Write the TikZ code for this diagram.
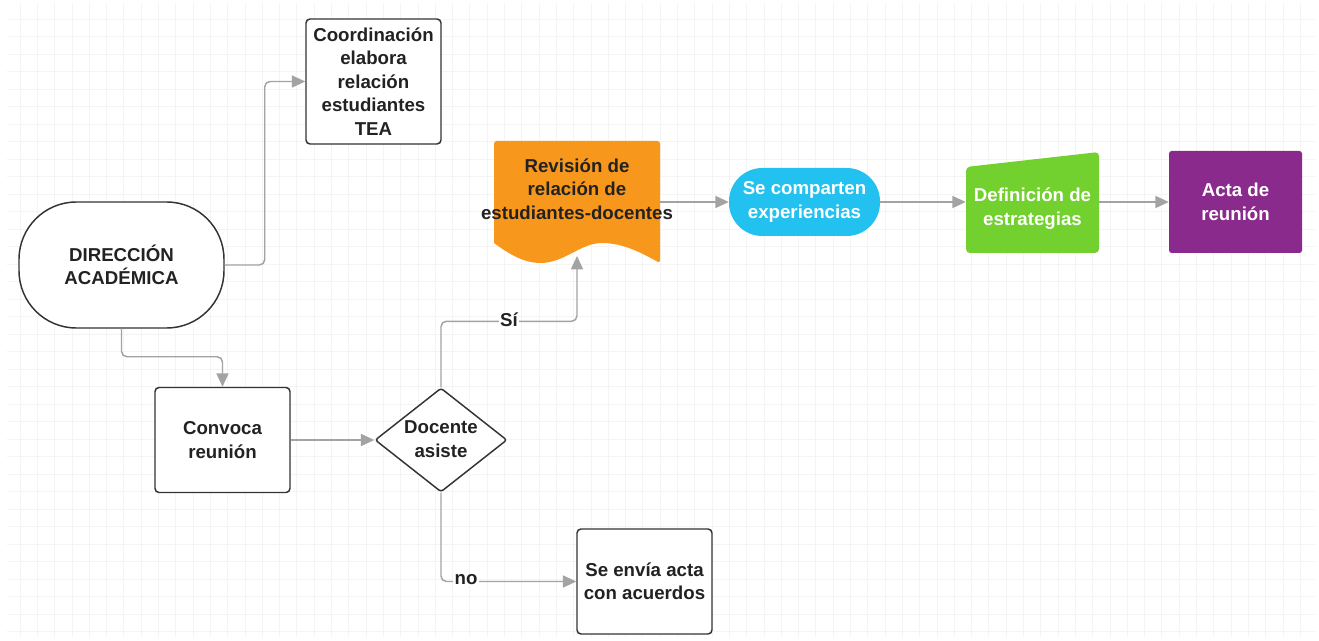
\documentclass[tikz,border=0pt]{standalone}
\usepackage{fontspec}
\setmainfont{Liberation Sans}
\usetikzlibrary{shapes.geometric, arrows.meta}
\definecolor{edge}{HTML}{A3A3A3}
\definecolor{ink}{HTML}{222222}
\definecolor{frame}{HTML}{333333}
\definecolor{gridc}{HTML}{F4F4F4}
\definecolor{orangeC}{HTML}{F7971B}
\definecolor{cyanC}{HTML}{22C1EF}
\definecolor{greenC}{HTML}{72D12E}
\definecolor{purpleC}{HTML}{8A2A8C}
\def\p{0.75}
\begin{document}
\begin{tikzpicture}[x=0.75pt, y=-0.75pt,
  txt/.style={font=\bfseries\fontsize{14}{17.6}\selectfont, align=center, text=ink},
  box/.style={txt, draw=frame, line width=1.1pt, rounded corners=3pt, fill=white, inner sep=0pt},
  conn/.style={draw=edge, line width=1.1pt, rounded corners=4pt, -{Triangle[length=10pt,width=9pt]}},
  lbl/.style={txt, fill=white, inner sep=1pt},
  ghost/.style={inner sep=0pt}]
\useasboundingbox (0,0) rectangle (1319,641);
\fill[white] (0,0) rectangle (1319,641);
% grid
\foreach \i in {0,...,74} \draw[gridc, line width=0.6pt] ({20+17.3*\i},3) -- ({20+17.3*\i},637);
\foreach \j in {0,...,35} \draw[gridc, line width=0.6pt] (7,{19+17.5*\j}) -- (1315,{19+17.5*\j});

% nodes
\node[box, minimum width=\p*135, minimum height=\p*125] (coord) at (373.5,81.5) {Coordinación\\elabora\\relación\\estudiantes\\TEA};
\node[box, rounded corners=43pt, minimum width=\p*205, minimum height=\p*126] (dir) at (121.5,265) {DIRECCIÓN\\ACADÉMICA};
\node[box, minimum width=\p*135, minimum height=\p*105] (conv) at (222.5,440) {Convoca\\reunión};
\node[diamond, draw=frame, line width=1.1pt, fill=white, rounded corners=2pt, minimum width=\p*132, minimum height=\p*104, inner sep=0pt] (dec) at (441,440) {};
\node[txt] (dect) at (441,439) {Docente\\asiste};
\node[box, minimum width=\p*135, minimum height=\p*105] (envia) at (644.5,581.5) {Se envía acta\\con acuerdos};

% document shape
\fill[orangeC, rounded corners=2pt] (494,243) -- (494,141) -- (660,141) -- (660,263)
  [sharp corners] .. controls (645,255) and (625,243) .. (602,243)
  .. controls (580,243) and (565,263) .. (540,263)
  .. controls (525,263) and (510,255) .. (494,243) -- cycle;
\node[ghost, minimum width=\p*166, minimum height=\p*122] (rev) at (577,202) {};
\node[txt] (revt) at (577,189) {Revisión de\\relación de\\estudiantes-docentes};
\coordinate (revin) at (577,256);

\node[txt, text=white, fill=cyanC, rounded corners=25pt, minimum width=\p*151, minimum height=\p*68, inner sep=0pt] (comp) at (804.5,202) {Se comparten\\experiencias};

\fill[greenC, rounded corners=3pt] (966,167) -- (1099,152) -- (1099,253) -- (966,253) -- cycle;
\node[ghost, minimum width=\p*133, minimum height=\p*101] (def) at (1032.5,202) {};
\node[txt, text=white] (deft) at (1032.5,208.5) {Definición de\\estrategias};

\node[txt, text=white, fill=purpleC, rounded corners=2pt, minimum width=\p*133, minimum height=\p*102, inner sep=0pt] (acta) at (1235.5,202) {Acta de\\reunión};

% connectors
\draw[conn] (dir.east) -- ++(40,0) |- (coord.west);
\draw[conn] (dir.south) -- ++(0,28) -| (conv.north);
\draw[conn] (conv.east) -- (dec.west);
\draw[conn] (dec.north) -- ++(0,-66) -| (revin);
\draw[conn] (dec.south) |- (envia.west);
\draw[conn] (rev.east) -- (comp.west);
\draw[conn] (comp.east) -- (def.west);
\draw[conn] (def.east) -- (acta.west);
\node[lbl] (si) at (509,320) {Sí};
\node[lbl] (no) at (466,580) {no};
\end{tikzpicture}
\end{document}
